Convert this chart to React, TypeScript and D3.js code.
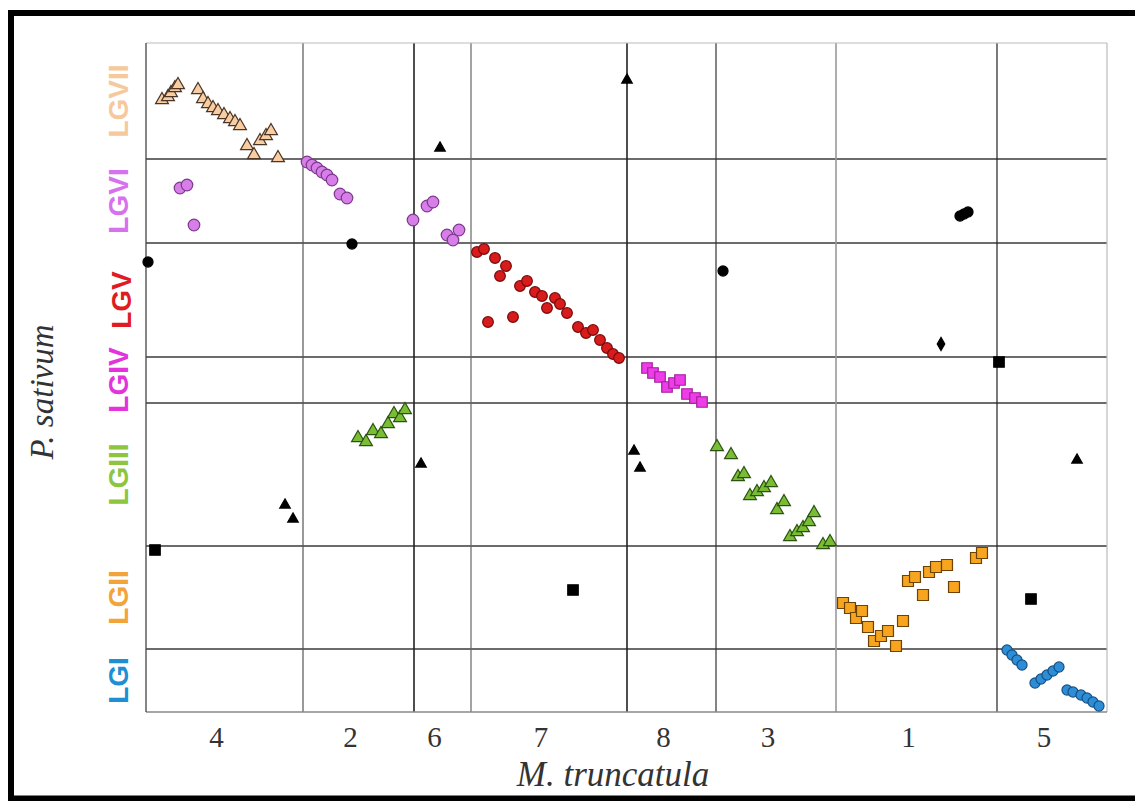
import * as d3 from "d3";

// M. truncatula chromosomes along x (order as drawn) and their lengths in plot units
const mtChromosomes = ["4", "2", "6", "7", "8", "3", "1", "5"];
const mtLengths = [157, 111, 57, 156, 89, 120, 161, 110];

// P. sativum linkage groups along y, top to bottom
const psGroups = ["LGVII", "LGVI", "LGV", "LGIV", "LGIII", "LGII", "LGI"];
const psLengths = [116, 84, 114, 46, 143, 103, 63];

// markers: [mt position, ps position]
const lgVII = [
  [16, 57], [22, 54], [25, 50], [29, 45], [32, 42], [52, 47], [57, 56], [62, 61], [67, 65], [72, 68],
  [78, 72], [84, 76], [89, 79], [94, 83], [101, 103], [108, 112], [114, 98], [120, 93], [125, 88], [132, 115],
];
const lgVI = [
  [34, 145], [41, 142], [48, 182], [161, 119], [166, 122], [171, 125], [176, 129], [181, 132], [186, 137],
  [194, 151], [201, 155], [267, 177], [281, 163], [287, 159], [301, 192], [307, 197], [313, 187],
];
const lgV = [
  [331, 209], [338, 206], [349, 215], [360, 223], [354, 233], [374, 243], [381, 238], [389, 249], [396, 253],
  [409, 255], [414, 261], [401, 265], [421, 270], [342, 279], [367, 274], [432, 284], [440, 290], [447, 287],
  [454, 297], [461, 305], [467, 311], [473, 315],
];
const lgIV = [
  [501, 325], [507, 330], [514, 334], [521, 344], [528, 340], [534, 337], [541, 351], [549, 355], [556, 359],
];
const lgIII = [
  [212, 395], [220, 399], [227, 388], [235, 391], [242, 381], [248, 371], [254, 375], [259, 367],
  [571, 404], [585, 412], [592, 434], [598, 431], [604, 453], [611, 449], [618, 445], [625, 440], [631, 467],
  [638, 459], [644, 494], [651, 489], [657, 485], [663, 479], [668, 470], [677, 502], [684, 499],
];
const lgII = [
  [697, 560], [704, 565], [710, 575], [716, 568], [722, 584], [728, 598], [735, 593], [742, 588], [750, 603],
  [757, 578], [762, 538], [769, 534], [777, 552], [783, 529], [790, 524], [801, 522], [808, 544], [830, 515],
  [836, 510],
];
const lgI = [
  [861, 607], [866, 612], [871, 617], [876, 622], [889, 640], [895, 636], [901, 632], [907, 628], [913, 624],
  [921, 647], [927, 649], [935, 652], [941, 655], [947, 659], [953, 663],
];
// off-diagonal markers (black)
const otherTriangles = [[294, 105], [481, 37], [275, 421], [139, 462], [147, 476], [488, 408], [494, 425], [931, 417]];
const otherCircles = [[2, 219], [206, 201], [577, 228], [814, 173], [818, 171], [822, 169]];
const otherDiamonds = [[795, 301]];
const otherSquares = [[9, 507], [427, 547], [853, 319], [885, 556]];

const labelColors = ["#f6c99c", "#d672ee", "#e01b22", "#e233dc", "#8cc540", "#f2a33a", "#1d8fd2"];

const series = [
  { pts: lgVII, shape: d3.symbolTriangle, size: 72, fill: "#f8cda2", stroke: "#4a3526" },
  { pts: lgVI, shape: d3.symbolCircle, size: 105, fill: "#d77ee8", stroke: "#7b3a8c" },
  { pts: lgV, shape: d3.symbolCircle, size: 90, fill: "#d81c1c", stroke: "#7a0a0a" },
  { pts: lgIV, shape: d3.symbolSquare, size: 110, fill: "#ee3ce8", stroke: "#a31f9c" },
  { pts: lgIII, shape: d3.symbolTriangle, size: 72, fill: "#79bd35", stroke: "#2c5410" },
  { pts: lgII, shape: d3.symbolSquare, size: 120, fill: "#f7a41f", stroke: "#6e4200" },
  { pts: lgI, shape: d3.symbolCircle, size: 80, fill: "#2d8dd6", stroke: "#164f80" },
  { pts: otherTriangles, shape: d3.symbolTriangle, size: 48, fill: "#000", stroke: "#000" },
  { pts: otherCircles, shape: d3.symbolCircle, size: 80, fill: "#000", stroke: "#000" },
  { pts: otherDiamonds, shape: d3.symbolDiamond, size: 50, fill: "#000", stroke: "#000" },
  { pts: otherSquares, shape: d3.symbolSquare, size: 110, fill: "#000", stroke: "#000" },
];

// shade of the inner vertical separators (left to right)
const vShade = ["#555", "#222", "#666", "#222", "#333", "#999", "#222"];

export default function App() {
  const W = 1135, H = 801;
  const left = 146, right = 1107, top = 43, bottom = 712;

  const x = d3.scaleLinear().domain([0, d3.sum(mtLengths)]).range([left, right]);
  const y = d3.scaleLinear().domain([0, d3.sum(psLengths)]).range([top, bottom]);

  const mtEnds = Array.from(d3.cumsum(mtLengths));
  const mtStarts = [0, ...mtEnds.slice(0, -1)];
  const psEnds = Array.from(d3.cumsum(psLengths));
  const psStarts = [0, ...psEnds.slice(0, -1)];

  return (
    <svg width={W} height={H} style={{ position: "absolute", left: 0, top: 0, background: "#fff" }}>
      <rect x={0} y={0} width={W} height={H} fill="#fff" />

      {/* horizontal separators */}
      {psEnds.slice(0, -1).map((v, i) => (
        <line key={"h" + i} x1={left} x2={right} y1={y(v)} y2={y(v)} stroke="#3a3a3a" strokeWidth={1.3} />
      ))}
      {/* vertical separators */}
      {mtEnds.slice(0, -1).map((v, i) => (
        <line key={"v" + i} x1={x(v)} x2={x(v)} y1={top} y2={bottom} stroke={vShade[i]} strokeWidth={i % 2 ? 1.6 : 1.2} />
      ))}

      {/* plot border */}
      <line x1={left} x2={right} y1={top} y2={top} stroke="#bbb" strokeWidth={1.2} />
      <line x1={right} x2={right} y1={top} y2={bottom} stroke="#bbb" strokeWidth={1.2} />
      <line x1={left} x2={right} y1={bottom} y2={bottom} stroke="#888" strokeWidth={1.5} />
      <line x1={left} x2={left} y1={top} y2={bottom} stroke="#444" strokeWidth={1.3} />

      {/* markers */}
      {series.map((s, si) => {
        const path = d3.symbol().type(s.shape).size(s.size)();
        return (
          <g key={"s" + si}>
            {s.pts.map(([mx, py], pi) => (
              <path
                key={pi}
                d={path || ""}
                transform={`translate(${x(mx)},${y(py)})`}
                fill={s.fill}
                stroke={s.stroke}
                strokeWidth={1.2}
              />
            ))}
          </g>
        );
      })}

      {/* chromosome labels */}
      {mtChromosomes.map((c, i) => (
        <text
          key={"mt" + c}
          x={x((mtStarts[i] + mtEnds[i]) / 2) - 8}
          y={747}
          textAnchor="middle"
          fontFamily="'Liberation Serif', 'Times New Roman', serif"
          fontSize={29}
          fill="#333"
        >
          {c}
        </text>
      ))}

      {/* linkage group labels */}
      {psGroups.map((g, i) => (
        <text
          key={g}
          transform={`translate(${g === "LGV" ? 131 : 128},${y((psStarts[i] + psEnds[i]) / 2)}) rotate(-90)`}
          textAnchor="middle"
          fontFamily="'Liberation Sans Narrow', 'Arial Narrow', 'Liberation Sans', sans-serif"
          fontWeight="bold"
          fontSize={28}
          fill={labelColors[i]}
        >
          {g}
        </text>
      ))}

      {/* axis titles */}
      <text
        transform="translate(53,392) rotate(-90)"
        textAnchor="middle"
        fontFamily="'Liberation Serif', 'Times New Roman', serif"
        fontStyle="italic"
        fontSize={33}
        fill="#333"
      >
        P. sativum
      </text>
      <text
        x={613}
        y={786}
        textAnchor="middle"
        fontFamily="'Liberation Serif', 'Times New Roman', serif"
        fontStyle="italic"
        fontSize={35}
        fill="#333"
      >
        M. truncatula
      </text>

      {/* outer frame */}
      <rect x={11} y={13} width={W + 10} height={785.5} fill="none" stroke="#000" strokeWidth={6} />
    </svg>
  );
}
